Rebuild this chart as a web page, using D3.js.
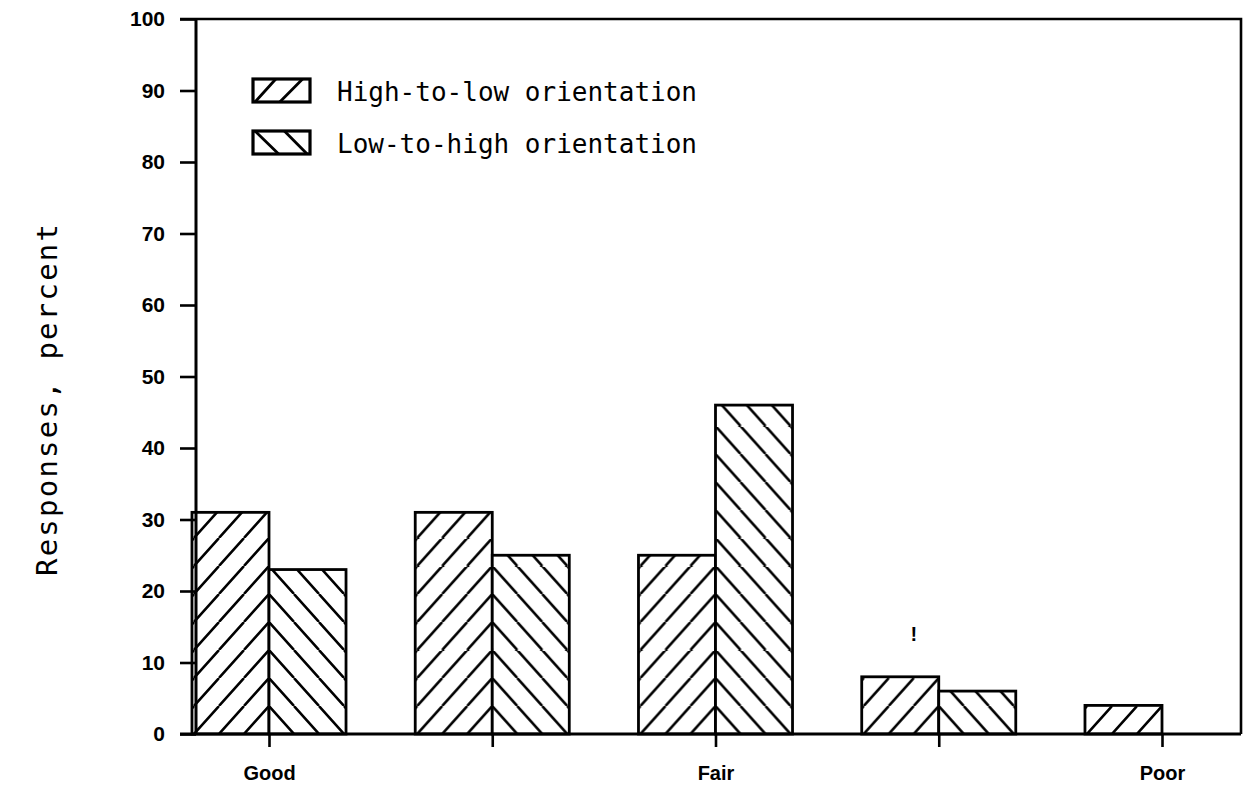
<!DOCTYPE html>
<html>
<head>
<meta charset="utf-8">
<script src="https://cdn.jsdelivr.net/npm/d3@7"></script>
<style>
  html, body { margin: 0; padding: 0; background: #fff; }
  svg { display: block; }
</style>
</head>
<body>
<svg id="chart" width="1246" height="788"></svg>
<script>
// Response categories along the rating scale (only every other one is labelled)
const categories = ["Good", "", "Fair", "", "Poor"];
// Percent of responses for each question orientation
const highToLow = [31, 31, 25, 8, 4];
const lowToHigh = [23, 25, 46, 6, 0];
const seriesNames = ["High-to-low orientation", "Low-to-high orientation"];
const yTicks = [0, 10, 20, 30, 40, 50, 60, 70, 80, 90, 100];
// Small stray mark above the fourth group
const marks = [{ cat: 3, value: 13, text: "!" }];

const svg = d3.select("#chart");
const plotLeft = 196, plotRight = 1241, plotTop = 19, plotBottom = 734;

const y = d3.scaleLinear().domain([0, 100]).range([plotBottom, plotTop]);
const x = d3.scalePoint().domain(d3.range(categories.length)).range([269, 1162]);
const barW = x.step() * 0.345;

const ink = "#000";
const defs = svg.append("defs");

// Hatch patterns anchored at each group's centre on the baseline so that
// the two hatch directions meet as chevrons along the shared bar edge.
const tileW = 25, tileH = 28;
function hatch(id, x0, dir) {
  const p = defs.append("pattern")
    .attr("id", id)
    .attr("patternUnits", "userSpaceOnUse")
    .attr("x", x0).attr("y", y(0))
    .attr("width", tileW).attr("height", tileH);
  const d = dir === "up"
    ? `M0,${tileH}L${tileW},0 M${-tileW},${tileH}L0,0 M${tileW},${tileH}L${2 * tileW},0`
    : `M0,0L${tileW},${tileH} M${-tileW},0L0,${tileH} M${tileW},0L${2 * tileW},${tileH}`;
  p.append("rect").attr("width", tileW).attr("height", tileH).attr("fill", "#fff");
  p.append("path").attr("d", d).attr("stroke", ink).attr("stroke-width", 2.5).attr("fill", "none");
}

categories.forEach((c, i) => {
  hatch("hl" + i, x(i), "up");
  hatch("lh" + i, x(i), "down");
});

// Frame: top and right borders
svg.append("path")
  .attr("d", `M180,${plotTop}H${plotRight}V${plotBottom}`)
  .attr("fill", "none").attr("stroke", ink).attr("stroke-width", 2.6);

// Bars
const bars = [];
categories.forEach((c, i) => {
  bars.push({ i, v: highToLow[i], x0: x(i) - barW, kind: "hl" });
  bars.push({ i, v: lowToHigh[i], x0: x(i), kind: "lh" });
});
svg.append("g").selectAll("rect")
  .data(bars.filter(b => b.v > 0))
  .join("rect")
  .attr("x", b => b.x0)
  .attr("y", b => y(b.v))
  .attr("width", barW)
  .attr("height", b => y(0) - y(b.v))
  .attr("fill", b => `url(#${b.kind}${b.i})`)
  .attr("stroke", ink)
  .attr("stroke-width", 2.8);

// Y axis
const yAxis = svg.append("g")
  .attr("transform", `translate(${plotLeft},0)`)
  .call(d3.axisLeft(y).tickValues(yTicks).tickSize(16).tickPadding(15).tickFormat(d3.format("d")));
yAxis.select(".domain").attr("stroke", ink).attr("stroke-width", 3)
  .attr("d", `M0,${plotTop}V${plotBottom}`);
yAxis.selectAll(".tick line").attr("stroke", ink).attr("stroke-width", 2.6);
yAxis.selectAll(".tick text")
  .attr("fill", ink)
  .style("font-family", "'Liberation Sans', Arial, sans-serif")
  .style("font-weight", "bold")
  .style("font-size", "21px");

// X axis
const xAxis = svg.append("g")
  .attr("transform", `translate(0,${plotBottom})`)
  .call(d3.axisBottom(x).tickSize(13).tickPadding(19).tickFormat(i => categories[i]));
xAxis.select(".domain").attr("stroke", ink).attr("stroke-width", 3)
  .attr("d", `M180,0H${plotRight}`);
xAxis.selectAll(".tick line").attr("stroke", ink).attr("stroke-width", 2.6);
xAxis.selectAll(".tick text")
  .attr("fill", ink)
  .style("font-family", "'Liberation Sans', Arial, sans-serif")
  .style("font-weight", "bold")
  .style("font-size", "20px");

// Y axis title
svg.append("text")
  .attr("transform", `translate(57,400) rotate(-90)`)
  .attr("text-anchor", "middle")
  .attr("textLength", 352)
  .attr("lengthAdjust", "spacing")
  .style("font-family", "'DejaVu Sans Mono', monospace")
  .style("font-size", "29px")
  .attr("fill", ink)
  .text("Responses, percent");

// Legend
const legend = svg.append("g").attr("transform", "translate(253,79)");
const legRows = legend.selectAll("g").data(seriesNames).join("g")
  .attr("transform", (d, k) => `translate(0,${k * 52})`);
const swW = 57, swH = 23;
legRows.append("rect")
  .attr("width", swW).attr("height", swH)
  .attr("fill", "#fff").attr("stroke", ink).attr("stroke-width", 3.2);
legRows.append("path")
  .attr("d", (d, k) => k === 0
    ? `M2,${swH}L${swW * 0.4},0 M${swW * 0.47},${swH}L${swW * 0.87},0`
    : `M2,0L${swW * 0.45},${swH} M${swW * 0.55},0L${swW * 0.95},${swH}`)
  .attr("stroke", ink).attr("stroke-width", 2.8).attr("fill", "none");
legRows.append("text")
  .attr("x", 84).attr("y", 22)
  .style("font-family", "'DejaVu Sans Mono', monospace")
  .style("font-size", "26px")
  .attr("fill", ink)
  .text(d => d);

// Stray mark
svg.append("g").selectAll("text").data(marks).join("text")
  .attr("x", m => x(m.cat) - 25)
  .attr("y", m => y(m.value))
  .attr("text-anchor", "middle")
  .style("font-family", "'Liberation Sans', sans-serif")
  .style("font-weight", "bold")
  .style("font-size", "20px")
  .attr("fill", ink)
  .text(m => m.text);
</script>
</body>
</html>
